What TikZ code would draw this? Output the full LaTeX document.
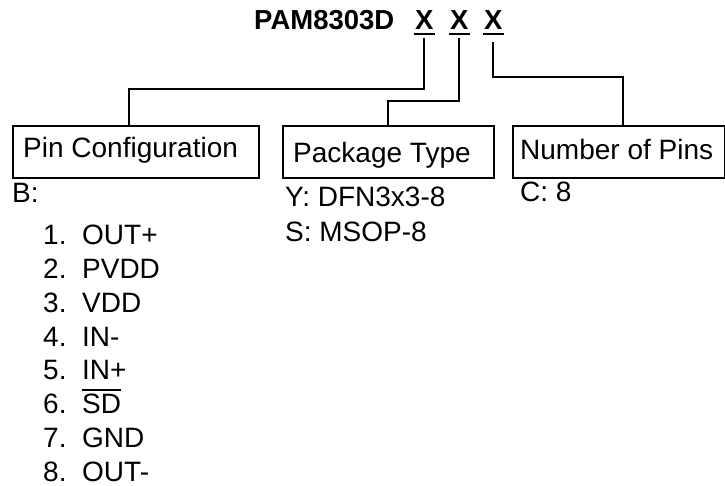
\documentclass[tikz,border=0pt]{standalone}
\usepackage{fontspec}
\setmainfont{Liberation Sans}
\newcommand{\myovl}[1]{\setbox0=\hbox{#1}\rlap{\rule[\dimexpr\ht0+3pt\relax]{\wd0}{1.7pt}}\box0}
\newcommand{\itm}[2]{\makebox[39pt][l]{#1}#2}
\begin{document}
\begin{tikzpicture}[x=1pt,y=-1pt,
  txt/.style={inner sep=0pt, anchor=base west, font=\fontsize{28}{30}\selectfont},
  ttl/.style={inner sep=0pt, anchor=base west, font=\fontsize{27.5}{30}\selectfont\bfseries},
  boxn/.style={draw, line width=2pt, anchor=north west, inner sep=0pt},
  wire/.style={line width=2pt},
  uline/.style={line width=2.4pt}]
\useasboundingbox (0,0) rectangle (725,486);
% title
\node[ttl] (pam) at (254,30) {PAM8303D};
\node[ttl] (x1) at (415,30) {X};
\node[ttl] (x2) at (450,30) {X};
\node[ttl] (x3) at (484,30) {X};
\foreach \n in {x1,x2,x3}
  \draw[uline] ([yshift=-4pt,xshift=-1pt]\n.base west) -- ([yshift=-4pt,xshift=1pt]\n.base east);
% boxes
\node[boxn, minimum width=246pt, minimum height=52pt] (pc) at (12,125) {};
\node[boxn, minimum width=211pt, minimum height=52pt] (pt) at (282,125) {};
\node[boxn, minimum width=212pt, minimum height=52pt] (np) at (512,125) {};
\node[txt] (pct) at (23,158) {Pin Configuration};
\node[txt] (ptt) at (293,163) {Package Type};
\node[txt] (npt) at (520,160) {Number of Pins};
% connectors
\coordinate (k1) at (129,89);
\coordinate (k2) at (388,101);
\coordinate (k3) at (623,77);
\draw[wire] ([yshift=-8pt]x1.base) |- (k1) -- (k1 |- pc.north);
\draw[wire] ([yshift=-8pt]x2.base) |- (k2) -- (k2 |- pt.north);
\draw[wire] ([yshift=-12pt]x3.base) |- (k3) -- (k3 |- np.north);
% options
\node[txt] (b) at (12,203) {B:};
\node[txt] (l1) at (43,245) {\itm{1.}{OUT+}};
\node[txt] (l2) at (43,278.7) {\itm{2.}{PVDD}};
\node[txt] (l3) at (43,312.4) {\itm{3.}{VDD}};
\node[txt] (l4) at (43,346.1) {\itm{4.}{IN-}};
\node[txt] (l5) at (43,379.8) {\itm{5.}{IN+}};
\node[txt] (l6) at (43,413.5) {\itm{6.}{\myovl{SD}}};
\node[txt] (l7) at (43,447.2) {\itm{7.}{GND}};
\node[txt] (l8) at (43,481) {\itm{8.}{OUT-}};
\node[txt] (y) at (285,207) {Y: DFN3x3-8};
\node[txt] (s) at (285,242) {S: MSOP-8};
\node[txt] (c) at (520,202) {C: 8};
\end{tikzpicture}
\end{document}
